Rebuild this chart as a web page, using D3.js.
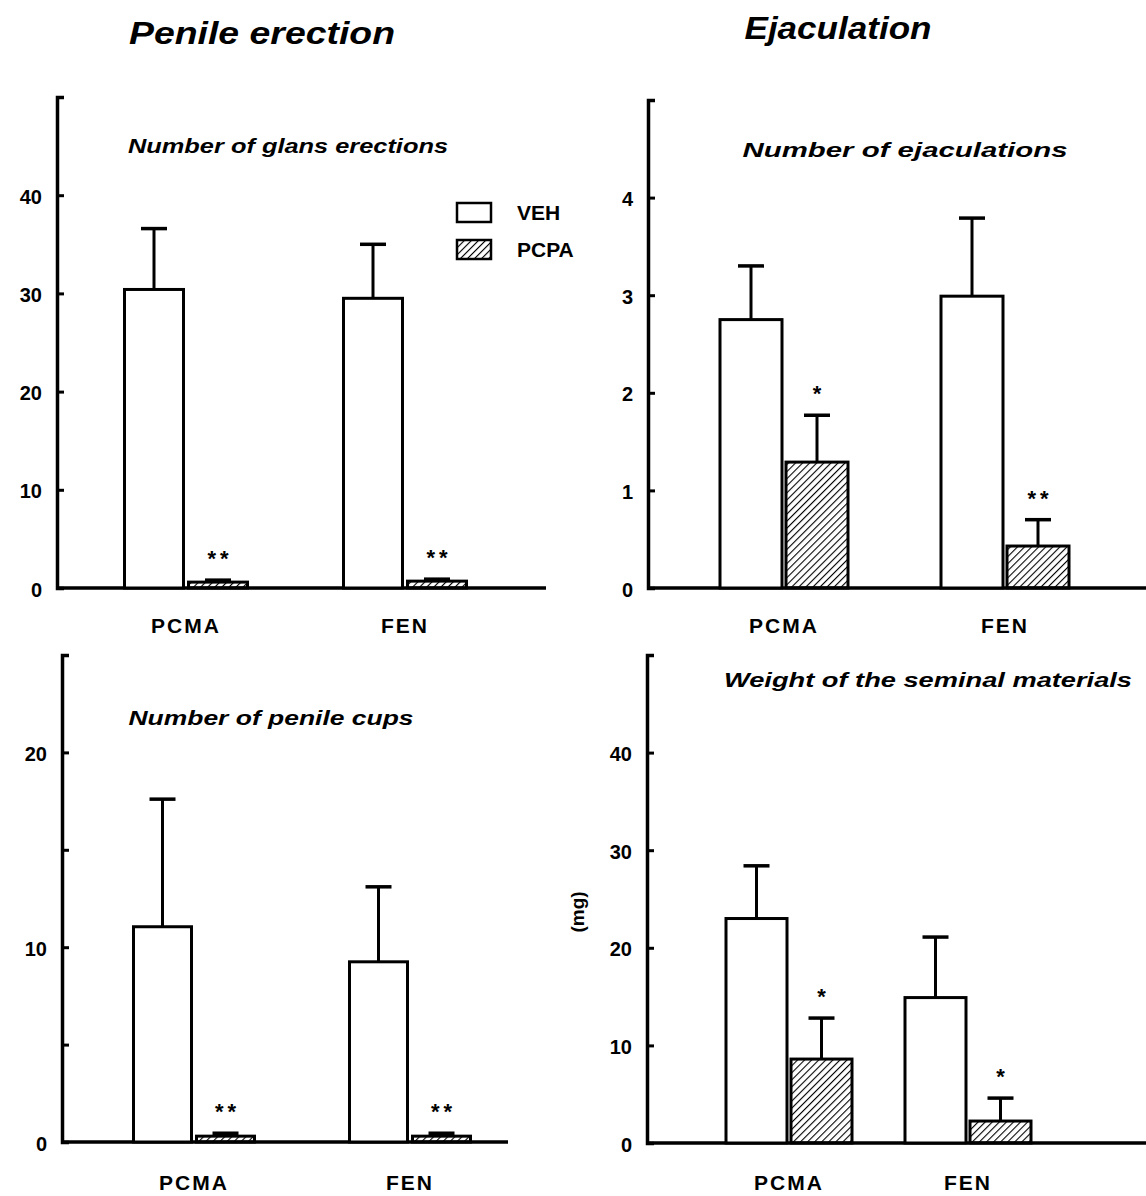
<!DOCTYPE html>
<html>
<head>
<meta charset="utf-8">
<script src="https://cdn.jsdelivr.net/npm/d3@7"></script>
<style>
  html, body { margin: 0; padding: 0; background: #fff; }
  svg text { font-family: "Liberation Sans", Arial, Helvetica, sans-serif; fill: #000; }
</style>
</head>
<body>
<div id="chart"></div>
<script>
// groups and series
const groups = ['PCMA', 'FEN'];
const series = ['VEH', 'PCPA'];

// Number of glans erections
const glansVeh = [30.4, 29.5];
const glansVehSem = [6.2, 5.5];
const glansPcpa = [0.6, 0.7];
const glansPcpaSem = [0.2, 0.2];
const glansSig = ['**', '**'];
const glansTicks = [0, 10, 20, 30, 40];
const glansTickLabels = ['0', '10', '20', '30', '40'];

// Number of ejaculations
const ejacVeh = [2.75, 2.99];
const ejacVehSem = [0.55, 0.8];
const ejacPcpa = [1.29, 0.43];
const ejacPcpaSem = [0.48, 0.27];
const ejacSig = ['*', '**'];
const ejacTicks = [0, 1, 2, 3, 4];
const ejacTickLabels = ['0', '1', '2', '3', '4'];

// Number of penile cups
const cupsVeh = [11.05, 9.25];
const cupsVehSem = [6.55, 3.85];
const cupsPcpa = [0.3, 0.3];
const cupsPcpaSem = [0.15, 0.15];
const cupsSig = ['**', '**'];
const cupsTicks = [0, 5, 10, 15, 20];
const cupsTickLabels = ['0', '', '10', '', '20'];

// Weight of the seminal materials (mg)
const weightVeh = [23.0, 14.9];
const weightVehSem = [5.4, 6.2];
const weightPcpa = [8.6, 2.25];
const weightPcpaSem = [4.2, 2.35];
const weightSig = ['*', '*'];
const weightTicks = [0, 10, 20, 30, 40];
const weightTickLabels = ['0', '10', '20', '30', '40'];

const width = 1146;
const height = 1196;

const svg = d3.select('#chart')
  .append('svg')
  .attr('width', width)
  .attr('height', height);

// diagonal hatch for PCPA
const defs = svg.append('defs');
defs.append('pattern')
  .attr('id', 'hatch')
  .attr('patternUnits', 'userSpaceOnUse')
  .attr('width', 5)
  .attr('height', 5)
  .attr('patternTransform', 'rotate(45)')
  .append('line')
  .attr('x1', 0).attr('y1', 0)
  .attr('x2', 0).attr('y2', 5)
  .attr('stroke', '#000')
  .attr('stroke-width', 2.2);

const fillFor = s => s === 'PCPA' ? 'url(#hatch)' : '#fff';

// Titles
svg.append('text')
  .attr('x', 262).attr('y', 44)
  .attr('text-anchor', 'middle')
  .attr('textLength', 266)
  .attr('lengthAdjust', 'spacingAndGlyphs')
  .style('font-size', '31px').style('font-weight', 'bold').style('font-style', 'italic')
  .text('Penile erection');

svg.append('text')
  .attr('x', 838).attr('y', 39)
  .attr('text-anchor', 'middle')
  .attr('textLength', 187)
  .attr('lengthAdjust', 'spacingAndGlyphs')
  .style('font-size', '31px').style('font-weight', 'bold').style('font-style', 'italic')
  .text('Ejaculation');

const panels = [
  { title: 'Number of glans erections', titleX: 288, titleY: 153, titleW: 320,
    veh: glansVeh, vehSem: glansVehSem, pcpa: glansPcpa, pcpaSem: glansPcpaSem, sig: glansSig,
    ticks: glansTicks, tickLabels: glansTickLabels, yMax: 50,
    axisX: 57, top: 97, base: 588, right: 546, centers: [186, 405], barW: 59, gap: 5, labelY: 633 },
  { title: 'Number of ejaculations', titleX: 905, titleY: 157, titleW: 325,
    veh: ejacVeh, vehSem: ejacVehSem, pcpa: ejacPcpa, pcpaSem: ejacPcpaSem, sig: ejacSig,
    ticks: ejacTicks, tickLabels: ejacTickLabels, yMax: 5,
    axisX: 648, top: 100, base: 588, right: 1146, centers: [784, 1005], barW: 62, gap: 4, labelY: 633 },
  { title: 'Number of penile cups', titleX: 271, titleY: 725, titleW: 285,
    veh: cupsVeh, vehSem: cupsVehSem, pcpa: cupsPcpa, pcpaSem: cupsPcpaSem, sig: cupsSig,
    ticks: cupsTicks, tickLabels: cupsTickLabels, yMax: 25,
    axisX: 62, top: 655, base: 1142, right: 508, centers: [194, 410], barW: 58, gap: 5, labelY: 1190 },
  { title: 'Weight of the seminal materials', titleX: 928, titleY: 687, titleW: 408,
    veh: weightVeh, vehSem: weightVehSem, pcpa: weightPcpa, pcpaSem: weightPcpaSem, sig: weightSig,
    ticks: weightTicks, tickLabels: weightTickLabels, yMax: 50,
    axisX: 647, top: 655, base: 1143, right: 1146, centers: [789, 968], barW: 61, gap: 4, labelY: 1190,
    unit: '(mg)', unitX: 584, unitY: 912 }
];

function drawPanel(p) {
  const g = svg.append('g');

  const y = d3.scaleLinear()
    .domain([0, p.yMax])
    .range([p.base, p.top]);

  const xc = d3.scalePoint()
    .domain(groups)
    .range(p.centers);

  const xs = d3.scaleBand()
    .domain(series)
    .range([-(p.barW + p.gap / 2), p.barW + p.gap / 2])
    .paddingInner(p.gap / (p.barW + p.gap));

  // Panel subtitle
  g.append('text')
    .attr('x', p.titleX).attr('y', p.titleY)
    .attr('text-anchor', 'middle')
    .attr('textLength', p.titleW)
    .attr('lengthAdjust', 'spacingAndGlyphs')
    .style('font-size', '21px').style('font-weight', 'bold').style('font-style', 'italic')
    .text(p.title);

  // Baseline
  g.append('line')
    .attr('x1', p.axisX).attr('x2', p.right)
    .attr('y1', y(0)).attr('y2', y(0))
    .attr('stroke', '#000').attr('stroke-width', 3.5);

  const rows = groups.flatMap((grp, i) => [
    { group: grp, series: 'VEH', value: p.veh[i], sem: p.vehSem[i], sig: '' },
    { group: grp, series: 'PCPA', value: p.pcpa[i], sem: p.pcpaSem[i], sig: p.sig[i] }
  ]);

  const bars = g.selectAll('.bar')
    .data(rows)
    .enter().append('g')
    .attr('class', 'bar')
    .attr('transform', d => `translate(${xc(d.group)},0)`);

  // Error bars
  bars.append('line')
    .attr('x1', d => xs(d.series) + xs.bandwidth() / 2)
    .attr('x2', d => xs(d.series) + xs.bandwidth() / 2)
    .attr('y1', d => y(d.value))
    .attr('y2', d => y(d.value + d.sem))
    .attr('stroke', '#000').attr('stroke-width', 3);

  bars.append('line')
    .attr('x1', d => xs(d.series) + xs.bandwidth() / 2 - 13)
    .attr('x2', d => xs(d.series) + xs.bandwidth() / 2 + 13)
    .attr('y1', d => y(d.value + d.sem))
    .attr('y2', d => y(d.value + d.sem))
    .attr('stroke', '#000').attr('stroke-width', 3.5);

  bars.append('rect')
    .attr('x', d => xs(d.series))
    .attr('width', xs.bandwidth())
    .attr('y', d => y(d.value))
    .attr('height', d => y(0) - y(d.value))
    .attr('fill', d => fillFor(d.series))
    .attr('stroke', '#000')
    .attr('stroke-width', 3);

  // Significance marks
  bars.filter(d => d.sig)
    .append('text')
    .attr('x', d => xs(d.series) + xs.bandwidth() / 2 + 2)
    .attr('y', d => y(d.value + d.sem) - 14)
    .attr('text-anchor', 'middle')
    .style('font-size', '22px').style('font-weight', 'bold')
    .style('letter-spacing', '4px')
    .text(d => d.sig);

  // Y axis, ticks pointing inward
  const yAxis = g.append('g')
    .attr('transform', `translate(${p.axisX},0)`)
    .call(d3.axisLeft(y)
      .tickValues(p.ticks)
      .tickFormat((d, i) => p.tickLabels[i])
      .tickSize(-7)
      .tickSizeOuter(-7)
      .tickPadding(15));

  yAxis.select('.domain')
    .attr('stroke', '#000').attr('stroke-width', 3.5);
  yAxis.selectAll('line')
    .attr('stroke', '#000').attr('stroke-width', 3);
  yAxis.selectAll('text')
    .attr('dy', '0.4em')
    .style('font-family', '"Liberation Sans", Arial, sans-serif')
    .style('font-size', '20px').style('font-weight', 'bold');

  // Category labels
  g.selectAll('.cat')
    .data(groups)
    .enter().append('text')
    .attr('class', 'cat')
    .attr('x', d => xc(d))
    .attr('y', p.labelY)
    .attr('text-anchor', 'middle')
    .style('font-size', '21px').style('font-weight', 'bold')
    .style('letter-spacing', '2px')
    .text(d => d);

  if (p.unit) {
    g.append('text')
      .attr('transform', `translate(${p.unitX},${p.unitY}) rotate(-90)`)
      .attr('text-anchor', 'middle')
      .style('font-size', '19px').style('font-weight', 'bold')
      .text(p.unit);
  }
}

panels.forEach(drawPanel);

// Legend
const legend = svg.append('g')
  .attr('transform', 'translate(457, 203)');

series.forEach((s, i) => {
  const item = legend.append('g')
    .attr('transform', `translate(0, ${i * 37})`);
  item.append('rect')
    .attr('width', 34).attr('height', 19)
    .attr('fill', fillFor(s))
    .attr('stroke', '#000').attr('stroke-width', 2.5);
  item.append('text')
    .attr('x', 60).attr('y', 17)
    .style('font-size', '21px').style('font-weight', 'bold')
    .text(s);
});
</script>
</body>
</html>
